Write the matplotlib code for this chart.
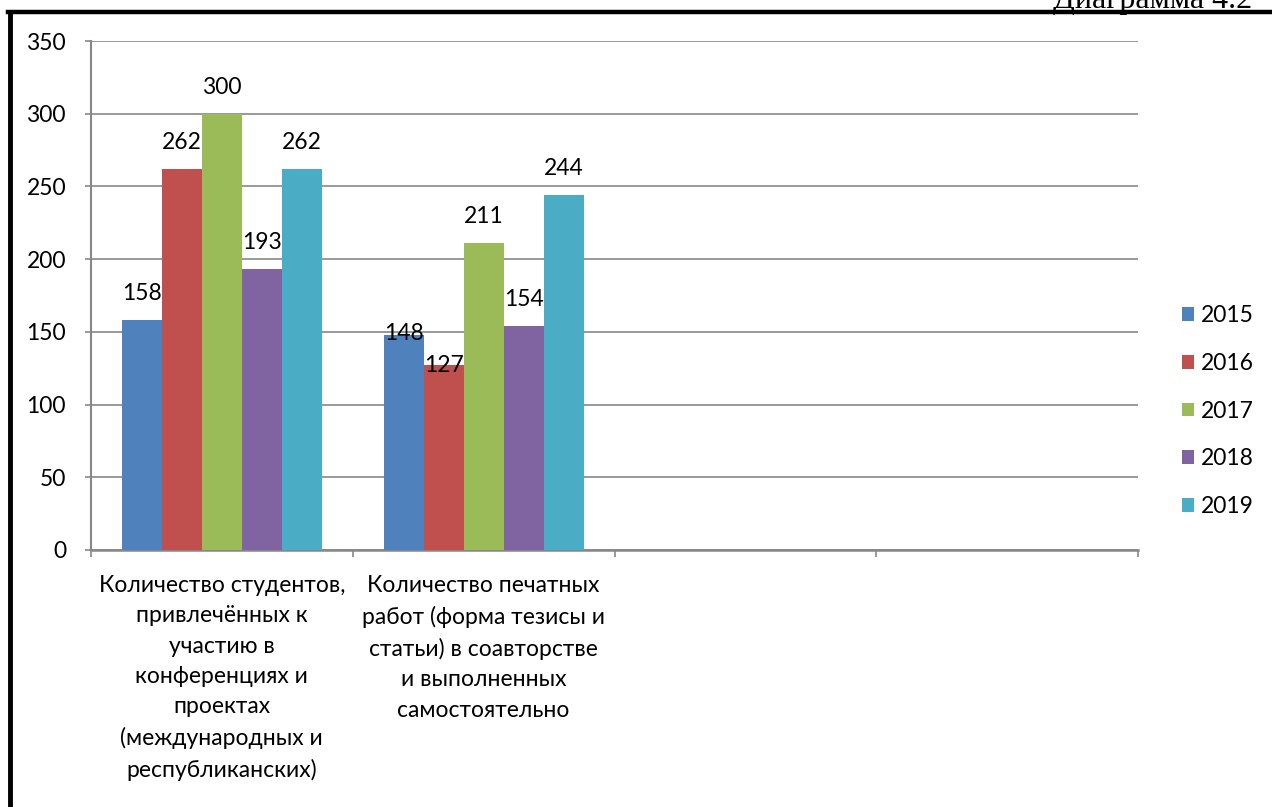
import matplotlib
matplotlib.use("Agg")
import matplotlib.pyplot as plt
import numpy as np
from matplotlib.lines import Line2D

categories = [
    "Количество студентов,\nпривлечённых к\nучастию в\nконференциях и\nпроектах\n(международных и\nреспубликанских)",
    "Количество печатных\nработ (форма тезисы и\nстатьи) в соавторстве\nи выполненных\nсамостоятельно",
    "",
    "",
]
years = ["2015", "2016", "2017", "2018", "2019"]
v2015 = [158, 148]
v2016 = [262, 127]
v2017 = [300, 211]
v2018 = [193, 154]
v2019 = [262, 244]
series = [v2015, v2016, v2017, v2018, v2019]
colors = ["#4F81BD", "#C0504D", "#9BBB59", "#8064A2", "#4BACC6"]
yticks = [0, 50, 100, 150, 200, 250, 300, 350]

plt.rcParams['font.family'] = ['Lato', 'DejaVu Sans']
FS = 16.5

fig = plt.figure(figsize=(12.72, 8.07), dpi=100)
ax = fig.add_axes([91/1272, 1-550/807, (1138-91)/1272, (550-41)/807])

n = len(series)
width = 0.153
x = np.arange(len(v2015))
# special nudges (points) for labels Excel moved to avoid overlaps
nudge = {(0, 1): (0, -18), (1, 1): (0, -19)}
for i, (vals, c, yr) in enumerate(zip(series, colors, years)):
    pos = x + (i - (n - 1) / 2) * width
    ax.bar(pos, vals, width, color=c, label=yr, zorder=3)
    for j, (p, v) in enumerate(zip(pos, vals)):
        dx, dy = nudge.get((i, j), (0, 0))
        ax.annotate(str(v), (p, v), xytext=(dx, 19 + dy), textcoords="offset points",
                    ha="center", va="center", fontsize=FS, color="black", zorder=4)

ax.set_xlim(-0.5, len(categories) - 0.5)
ax.set_ylim(0, 350)
ax.set_yticks(yticks)
ax.yaxis.grid(True, color="#878787", linewidth=1.2, zorder=0)
ax.set_axisbelow(True)
for s in ["top", "right"]:
    ax.spines[s].set_visible(False)
ax.spines["left"].set_color("#878787")
ax.spines["bottom"].set_color("#878787")
ax.spines["left"].set_linewidth(1.5)
ax.spines["bottom"].set_linewidth(1.8)
ax.tick_params(axis="y", length=4, width=1.2, color="#878787", labelsize=FS, pad=14)
ax.set_xticks(np.arange(len(categories) + 1) - 0.5, minor=False)
ax.set_xticklabels([])
ax.tick_params(axis="x", which="major", length=5, width=1.2, color="#878787")
ax.set_xticks(np.arange(len(categories)), minor=True)
ax.set_xticklabels(categories, minor=True, fontsize=FS, linespacing=1.55, va="top", ha="center")
ax.tick_params(axis="x", which="minor", length=0, pad=18)

leg = ax.legend(loc="center left", bbox_to_anchor=(1.033, 0.273), frameon=False,
                fontsize=FS, handlelength=0.55, handleheight=0.55, handletextpad=0.3,
                labelspacing=1.17, borderaxespad=0)

# outer frame
fig.add_artist(Line2D([10/1272, 10/1272], [0, 1-12/807], color="black", linewidth=3.5,
                      transform=fig.transFigure))
fig.add_artist(Line2D([8/1272, 1], [1-12/807, 1-12/807], color="black", linewidth=3.2,
                      transform=fig.transFigure))
fig.text(1053/1272, 1-8/807, "Диаграмма 4.2", fontsize=23, family="Liberation Serif",
         ha="left", va="baseline")

fig.savefig("out.png", dpi=100)
